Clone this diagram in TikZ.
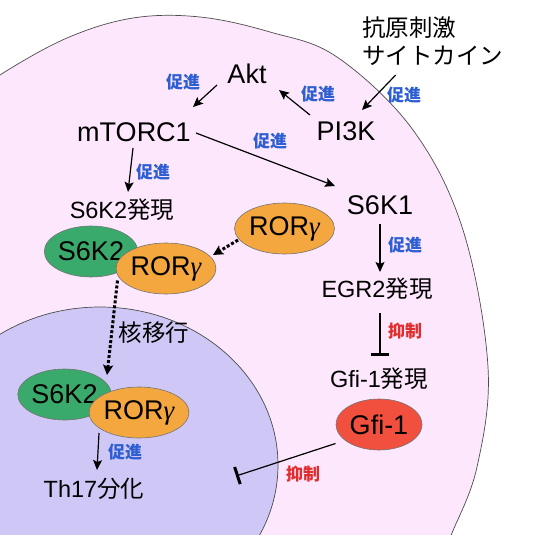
\documentclass[tikz,border=0pt]{standalone}
\usepackage{fontspec}
\setmainfont{Liberation Sans}
\newfontfamily\jp{Noto Sans CJK JP}
\newfontfamily\grk{Liberation Serif}
\usetikzlibrary{arrows.meta,shapes.geometric}
\definecolor{cellpink}{RGB}{253,231,252}
\definecolor{nucpurple}{RGB}{207,200,247}
\definecolor{promblue}{RGB}{45,95,210}
\definecolor{inhred}{RGB}{225,45,45}
\definecolor{s6green}{RGB}{58,170,108}
\definecolor{rororange}{RGB}{244,167,62}
\definecolor{gfired}{RGB}{242,80,62}
\newcommand{\gam}{{\grk\itshape γ}}
\newcommand{\cellcurve}{plot[smooth, tension=0.6] coordinates {(-30,100) (0,75) (67,38) (133,18) (200,17) (270,32) (337,57) (413,130) (463,230) (488,367) (477,467) (452,533) (440,560)}}
\begin{document}
\begin{tikzpicture}[x=1pt,y=-1pt,
  big/.style={font=\fontsize{27}{30}\selectfont, inner sep=0pt},
  mid/.style={font=\fontsize{23.5}{27}\selectfont, inner sep=0pt},
  prom/.style={font=\fontsize{17}{19}\selectfont\jp\bfseries, text=promblue, inner sep=0pt},
  inh/.style={font=\fontsize{17}{19}\selectfont\jp\bfseries, text=inhred, inner sep=0pt},
  prot/.style={ellipse, draw=black!55, line width=0.6pt, minimum width=86pt, minimum height=51pt, inner sep=0pt, font=\fontsize{27}{30}\selectfont},
  act/.style={-{Stealth[length=10pt,width=9pt,inset=2pt]}, line width=1.2pt},
  dotact/.style={-{Stealth[length=10pt,width=10pt,inset=2pt]}, line width=3pt, dash pattern=on 3pt off 2pt},
  inhib/.style={-{Bar[width=18pt,line width=3pt]}, line width=1.2pt},
  memb/.style={draw=black!70, line width=0.7pt}
]
\useasboundingbox (0,0) rectangle (534,538);
\begin{scope}
  \clip (0,0) rectangle (534,534);
  \fill[cellpink] \cellcurve -- (-30,560) -- cycle;
  \draw[memb] \cellcurve;
  \filldraw[memb, fill=nucpurple] (100,465) ellipse [x radius=178, y radius=158];
\end{scope}

% text nodes
\node[big] (akt) at (247,74) {Akt};
\node[big] (mtorc) at (134,132) {mTORC1};
\node[big] (pi3k) at (346,131) {PI3K};
\node[big] (s6k1) at (380,205) {S6K1};
\node[mid, anchor=west] (stimA) at (362,28) {\jp 抗原刺激};
\node[mid, anchor=west] (stimB) at (362,56) {\jp サイトカイン};
\node[mid] (s6k2ex) at (122,210) {S6K2{\jp 発現}};
\node[mid] (egr) at (377,289) {EGR2{\jp 発現}};
\node[mid] (gfiex) at (379,379) {Gfi-1{\jp 発現}};
\node[mid] (th17) at (94,489) {Th17{\jp 分化}};
\node[mid] (nuctr) at (154,333) {\jp 核移行};

% labels
\node[prom] (p1) at (183,82) {促進};
\node[prom] (p2) at (318,94) {促進};
\node[prom] (p3) at (404,95) {促進};
\node[prom] (p4) at (270,141) {促進};
\node[prom] (p5) at (153,172) {促進};
\node[prom] (p6) at (405,245) {促進};
\node[prom] (p7) at (125,452) {促進};
\node[inh] (i1) at (405,331) {抑制};
\node[inh] (i2) at (303,474) {抑制};

% proteins
\node[prot, fill=rororange] (ror1) at (284.5,228.5) {ROR\gam};
\node[prot, fill=s6green] (s6k2a) at (91,251.5) {S6K2};
\node[prot, fill=rororange] (ror2) at (166,268.5) {ROR\gam};
\node[prot, fill=s6green] (s6k2b) at (64.5,394.5) {S6K2};
\node[prot, fill=rororange] (ror3) at (139,412.5) {ROR\gam};
\node[prot, fill=gfired] (gfi) at (379,424.5) {Gfi-1};

\coordinate (inhend) at (236,476);

% connectors
\draw[act] ([shift={(-30,11)}]akt.center) -- ([shift={(59,-25)}]mtorc.center);
\draw[act] ([shift={(-36,-16)}]pi3k.center) -- ([shift={(32,16)}]akt.center);
\draw[act] ([shift={(-37,19)}]stimB.center) -- ([shift={(16,-21)}]pi3k.center);
\draw[act] ([shift={(62,1)}]mtorc.center) -- ([shift={(-45,-19)}]s6k1.center);
\draw[act] ([shift={(-1,16)}]mtorc.center) -- ([shift={(6,-18)}]s6k2ex.center);
\draw[dotact] ([shift={(-46.5,11.5)}]ror1.center) -- ([shift={(47,-13.5)}]ror2.center);
\draw[dotact] ([shift={(26.5,29)}]s6k2a.center) -- ([shift={(42.5,-19.5)}]s6k2b.center);
\draw[act] ([shift={(0,19)}]s6k1.center) -- ([shift={(3,-17)}]egr.center);
\draw[inhib] ([shift={(3,24)}]egr.center) -- ([shift={(1,-23)}]gfiex.center);
\draw[act] ([shift={(-40,20.5)}]ror3.center) -- ([shift={(3,-19)}]th17.center);
\draw[inhib] ([shift={(-43.5,19)}]gfi.center) -- (inhend);
\end{tikzpicture}
\end{document}
